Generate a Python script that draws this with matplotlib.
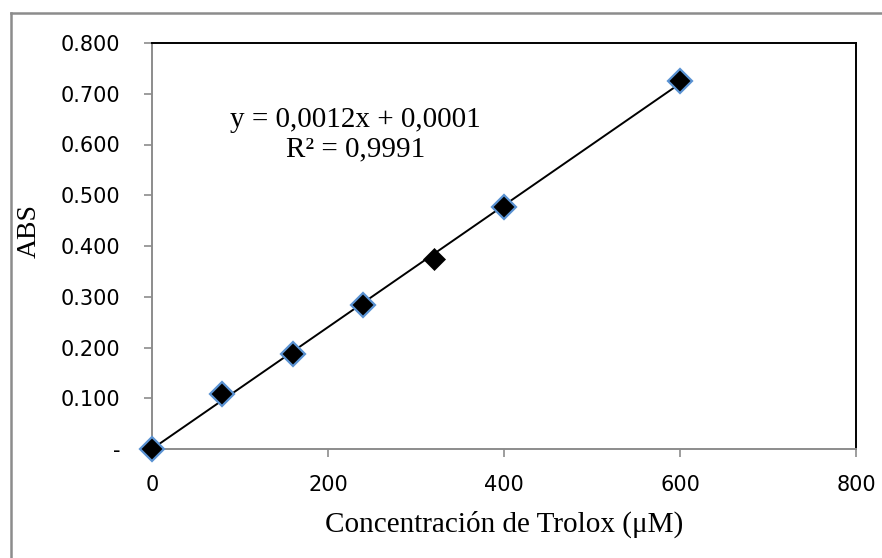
import matplotlib
matplotlib.use("Agg")
import matplotlib.pyplot as plt
from matplotlib.lines import Line2D

conc = [0, 80, 160, 240, 400, 600]
abs_vals = [0.000, 0.109, 0.187, 0.283, 0.477, 0.725]
conc_sample = [320]
abs_sample = [0.374]
slope, intercept = 0.0012, 0.0001
fit_x = [0, 600]
xticks = [0, 200, 400, 600, 800]
yticks = [0, 0.1, 0.2, 0.3, 0.4, 0.5, 0.6, 0.7, 0.8]
ytick_labels = ["-", "0.100", "0.200", "0.300", "0.400", "0.500", "0.600", "0.700", "0.800"]

W, H = 882, 558
fig = plt.figure(figsize=(W / 100, H / 100), dpi=100)
ax = fig.add_axes([152 / W, 1 - 449 / H, (856 - 152) / W, (449 - 43) / H])

# outer frame (top and left)
fig.add_artist(Line2D([11 / W, 1.0], [1 - 13 / H, 1 - 13 / H], color="#8c8c8c", lw=1.8, transform=fig.transFigure))
fig.add_artist(Line2D([11 / W, 11 / W], [0.0, 1 - 13 / H], color="#8c8c8c", lw=1.8, transform=fig.transFigure))

fit_y = [slope * x + intercept for x in fit_x]
ax.plot(fit_x, fit_y, color="black", lw=1.4, zorder=2, clip_on=False)
ax.plot(conc, abs_vals, linestyle="none", marker="D", ms=12.5, mfc="black",
        mec="#5a92d2", mew=1.6, zorder=3, clip_on=False)
ax.plot(conc_sample, abs_sample, linestyle="none", marker="D", ms=11.5, mfc="black",
        mec="black", mew=0.5, zorder=3, clip_on=False)

ax.set_xlim(0, 800)
ax.set_ylim(0, 0.8)
ax.set_xticks(xticks)
ax.set_yticks(yticks)
ax.set_yticklabels(ytick_labels)
ax.tick_params(axis="both", direction="out", length=6, width=1.2, color="#8c8c8c",
               labelsize=15)
ax.tick_params(axis="y", pad=17)
ax.tick_params(axis="x", pad=13)
for lbl in ax.get_xticklabels() + ax.get_yticklabels():
    lbl.set_fontfamily("DejaVu Sans")

ax.spines["left"].set_color("#8c8c8c")
ax.spines["bottom"].set_color("#8c8c8c")
ax.spines["left"].set_linewidth(1.4)
ax.spines["bottom"].set_linewidth(1.4)
ax.spines["top"].set_color("black")
ax.spines["right"].set_color("black")
ax.spines["top"].set_linewidth(1.4)
ax.spines["right"].set_linewidth(1.4)

ax.set_xlabel("Concentración de Trolox (μM)", fontfamily="Liberation Serif", fontsize=21, labelpad=11)
ax.set_ylabel("ABS", fontfamily="Liberation Serif", fontsize=20)
ax.yaxis.set_label_coords(-0.157, (449 - 231) / 406)

ax.text(231, 0.619, "y = 0,0012x + 0,0001\nR² = 0,9991", fontfamily="Liberation Serif",
        fontsize=21, ha="center", va="center", linespacing=1.15, multialignment="center")

fig.savefig("out.png", dpi=100)
